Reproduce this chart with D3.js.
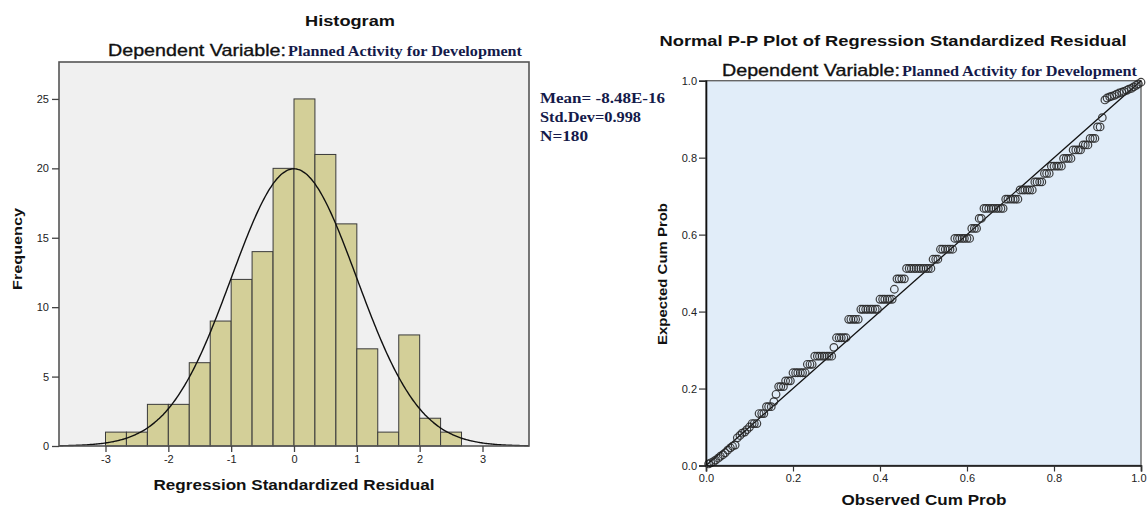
<!DOCTYPE html>
<html>
<head>
<meta charset="utf-8">
<script src="https://cdn.jsdelivr.net/npm/d3@7"></script>
<style>
  body { margin: 0; background: #fff; }
  svg { display: block; }
  text { font-family: "Liberation Sans", Arial, sans-serif; }
  .serif { font-family: "Liberation Serif", "Times New Roman", serif; font-weight: bold; fill: #141a4a; }
</style>
</head>
<body>
<svg id="chart" width="1147" height="508"></svg>
<script>
// histogram data
const binEdges = [-3, -2.667, -2.333, -2, -1.667, -1.333, -1, -0.667, -0.333, 0, 0.333, 0.667, 1, 1.333, 1.667, 2, 2.333, 2.667];
const binCounts = [1, 1, 3, 3, 6, 9, 12, 14, 20, 25, 21, 16, 7, 1, 8, 2, 1];
const histXTicks = [-3, -2, -1, 0, 1, 2, 3];
const histYTicks = [0, 5, 10, 15, 20, 25];
const residMean = -8.48e-16;
const residSd = 0.998;
const statLines = ["Mean= -8.48E-16", "Std.Dev=0.998", "N=180"];

// P-P plot data (observed cum prob, expected cum prob)
const ppObserved = [
  0.006, 0.011, 0.017, 0.022, 0.028, 0.033, 0.039, 0.044, 0.050, 0.056, 0.061, 0.067,
  0.072, 0.078, 0.083, 0.089, 0.094, 0.100, 0.106, 0.111, 0.117, 0.122, 0.128, 0.133,
  0.139, 0.144, 0.150, 0.156, 0.161, 0.167, 0.172, 0.178, 0.183, 0.189, 0.194, 0.200,
  0.206, 0.211, 0.217, 0.222, 0.228, 0.233, 0.239, 0.244, 0.250, 0.256, 0.261, 0.267,
  0.272, 0.278, 0.283, 0.289, 0.294, 0.300, 0.306, 0.311, 0.317, 0.322, 0.328, 0.333,
  0.339, 0.344, 0.350, 0.356, 0.361, 0.367, 0.372, 0.378, 0.383, 0.389, 0.394, 0.400,
  0.406, 0.411, 0.417, 0.422, 0.428, 0.433, 0.439, 0.444, 0.450, 0.456, 0.461, 0.467,
  0.472, 0.478, 0.483, 0.489, 0.494, 0.500, 0.506, 0.511, 0.517, 0.522, 0.528, 0.533,
  0.539, 0.544, 0.550, 0.556, 0.561, 0.567, 0.572, 0.578, 0.583, 0.589, 0.594, 0.600,
  0.606, 0.611, 0.617, 0.622, 0.628, 0.633, 0.639, 0.644, 0.650, 0.656, 0.661, 0.667,
  0.672, 0.678, 0.683, 0.689, 0.694, 0.700, 0.706, 0.711, 0.717, 0.722, 0.728, 0.733,
  0.739, 0.744, 0.750, 0.756, 0.761, 0.767, 0.772, 0.778, 0.783, 0.789, 0.794, 0.800,
  0.806, 0.811, 0.817, 0.822, 0.828, 0.833, 0.839, 0.844, 0.850, 0.856, 0.861, 0.867,
  0.872, 0.878, 0.883, 0.889, 0.894, 0.900, 0.906, 0.911, 0.917, 0.922, 0.928, 0.933,
  0.939, 0.944, 0.950, 0.956, 0.961, 0.967, 0.972, 0.978, 0.983, 0.989, 0.994, 1.000
];
const ppExpected = [
  0.004, 0.007, 0.010, 0.014, 0.019, 0.024, 0.028, 0.033, 0.040, 0.046, 0.050, 0.053,
  0.072, 0.078, 0.084, 0.087, 0.093, 0.100, 0.109, 0.109, 0.109, 0.135, 0.135, 0.135,
  0.153, 0.153, 0.153, 0.166, 0.185, 0.205, 0.205, 0.205, 0.220, 0.220, 0.220, 0.241,
  0.241, 0.241, 0.241, 0.241, 0.241, 0.263, 0.263, 0.263, 0.284, 0.284, 0.284, 0.284,
  0.284, 0.284, 0.284, 0.284, 0.307, 0.332, 0.332, 0.332, 0.332, 0.332, 0.380, 0.380,
  0.380, 0.380, 0.380, 0.406, 0.406, 0.406, 0.406, 0.406, 0.406, 0.406, 0.406, 0.432,
  0.432, 0.432, 0.432, 0.432, 0.432, 0.458, 0.485, 0.485, 0.485, 0.485, 0.512, 0.512,
  0.512, 0.512, 0.512, 0.512, 0.512, 0.512, 0.512, 0.512, 0.512, 0.536, 0.536, 0.536,
  0.562, 0.562, 0.562, 0.562, 0.562, 0.562, 0.590, 0.590, 0.590, 0.590, 0.590, 0.590,
  0.590, 0.616, 0.616, 0.616, 0.642, 0.642, 0.668, 0.668, 0.668, 0.668, 0.668, 0.668,
  0.668, 0.668, 0.668, 0.692, 0.692, 0.692, 0.692, 0.692, 0.692, 0.716, 0.716, 0.716,
  0.716, 0.716, 0.716, 0.737, 0.737, 0.737, 0.737, 0.759, 0.759, 0.759, 0.778, 0.778,
  0.778, 0.778, 0.778, 0.798, 0.798, 0.798, 0.798, 0.820, 0.820, 0.820, 0.820, 0.833,
  0.833, 0.833, 0.850, 0.850, 0.850, 0.880, 0.880, 0.904, 0.950, 0.955, 0.958, 0.960,
  0.962, 0.965, 0.968, 0.970, 0.972, 0.975, 0.978, 0.980, 0.984, 0.988, 0.992, 0.996
];
const ppTicks = [0, 0.2, 0.4, 0.6, 0.8, 1.0];

const svg = d3.select("#chart");

// helper for titles that were stretched in the source image
function label(g, x, y, str, size, weight, width, anchor, cls) {
  const t = g.append("text")
    .attr("x", x).attr("y", y)
    .attr("font-size", size)
    .attr("font-weight", weight)
    .attr("text-anchor", anchor || "start")
    .attr("fill", "#111")
    .text(str);
  if (cls) t.attr("class", cls);
  if (width) t.attr("textLength", width).attr("lengthAdjust", "spacingAndGlyphs");
  return t;
}

// ---------- Histogram ----------
const hx = d3.scaleLinear().domain([-3.74, 3.74]).range([59, 529]);
const hy = d3.scaleLinear().domain([0, 27.66]).range([446, 62]);

const hist = svg.append("g");

hist.append("rect")
  .attr("x", hx.range()[0]).attr("y", hy.range()[1])
  .attr("width", hx.range()[1] - hx.range()[0])
  .attr("height", hy.range()[0] - hy.range()[1])
  .attr("fill", "#f0f0f0");

const binW = binEdges[1] - binEdges[0];
const bins = binCounts.map((c, i) => ({ x0: binEdges[i], x1: binEdges[i] + binW, n: c }));

hist.selectAll(".bar")
  .data(bins)
  .enter()
  .append("rect")
  .attr("class", "bar")
  .attr("x", d => hx(d.x0))
  .attr("y", d => hy(d.n))
  .attr("width", d => hx(d.x1) - hx(d.x0))
  .attr("height", d => hy(0) - hy(d.n))
  .attr("fill", "#d3cf98")
  .attr("stroke", "#3a3a3a")
  .attr("stroke-width", 1);

// fitted normal curve
const area = d3.sum(binCounts) * binW;
const curve = d3.range(-3.74, 3.741, 0.02).map(x => [x,
  area / (residSd * Math.sqrt(2 * Math.PI)) * Math.exp(-0.5 * Math.pow((x - residMean) / residSd, 2))]);

hist.append("path")
  .datum(curve)
  .attr("fill", "none")
  .attr("stroke", "#111")
  .attr("stroke-width", 1.4)
  .attr("d", d3.line().x(d => hx(d[0])).y(d => hy(d[1])).curve(d3.curveBasis));

hist.append("rect")
  .attr("x", hx.range()[0]).attr("y", hy.range()[1])
  .attr("width", hx.range()[1] - hx.range()[0])
  .attr("height", hy.range()[0] - hy.range()[1])
  .attr("fill", "none")
  .attr("stroke", "#555")
  .attr("stroke-width", 1.6);

const hAxisY = hist.append("g")
  .attr("transform", `translate(${hx.range()[0]},0)`)
  .call(d3.axisLeft(hy).tickValues(histYTicks).tickFormat(d => String(d)).tickSize(7).tickPadding(3));
const hAxisX = hist.append("g")
  .attr("transform", `translate(0,${hy(0)})`)
  .call(d3.axisBottom(hx).tickValues(histXTicks).tickFormat(d => String(d)).tickSize(6).tickPadding(3));
[hAxisY, hAxisX].forEach(a => {
  a.select(".domain").remove();
  a.selectAll(".tick line").attr("stroke", "#444").attr("stroke-width", 1.3);
  a.selectAll("text").attr("font-size", 11).attr("fill", "#222").attr("font-family", "Liberation Sans, Arial, sans-serif");
});

label(hist, 350, 26, "Histogram", 15, "bold", 90, "middle");
label(hist, 108, 56, "Dependent Variable:", 17, "normal", 178)
  .attr("stroke", "#111").attr("stroke-width", 0.35);
label(hist, 288, 56, "Planned Activity for Development", 14.5, "bold", 234, "start", "serif");
label(hist, 294, 490, "Regression Standardized Residual", 14.5, "bold", 281, "middle");
label(hist, 0, 0, "Frequency", 13.5, "bold", 82, "middle")
  .attr("transform", "translate(22,249) rotate(-90)");

const statWidths = [125, 101, 48];
statLines.forEach((s, i) => {
  label(hist, 540, 103 + i * 19, s, 14.5, "bold", statWidths[i], "start", "serif");
});

// ---------- Normal P-P plot ----------
const px = d3.scaleLinear().domain([0, 1]).range([706, 1141]);
const py = d3.scaleLinear().domain([0, 1]).range([465.5, 80.7]);

const pp = svg.append("g");

pp.append("rect")
  .attr("x", px(0)).attr("y", py(1))
  .attr("width", px(1) - px(0)).attr("height", py(0) - py(1))
  .attr("fill", "#e1edf9")
  .attr("stroke", "#666")
  .attr("stroke-width", 1.4);

pp.append("line")
  .attr("x1", px(0)).attr("y1", py(0))
  .attr("x2", px(1)).attr("y2", py(1))
  .attr("stroke", "#111")
  .attr("stroke-width", 1.3);

pp.selectAll(".pt")
  .data(ppObserved.map((o, i) => [o, ppExpected[i]]))
  .enter()
  .append("circle")
  .attr("class", "pt")
  .attr("cx", d => px(d[0]))
  .attr("cy", d => py(d[1]))
  .attr("r", 3.8)
  .attr("fill", "none")
  .attr("stroke", "#2a2a2a")
  .attr("stroke-opacity", 0.9)
  .attr("stroke-width", 1.2);

const fmt = d3.format(".1f");
const pAxisY = pp.append("g")
  .attr("transform", `translate(${px(0)},0)`)
  .call(d3.axisLeft(py).tickValues(ppTicks).tickFormat(fmt).tickSize(7).tickPadding(2));
const pAxisX = pp.append("g")
  .attr("transform", `translate(0,${py(0)})`)
  .call(d3.axisBottom(px).tickValues(ppTicks).tickFormat(fmt).tickSize(6).tickPadding(3));
[pAxisY, pAxisX].forEach(a => {
  a.select(".domain").attr("stroke", "#111").attr("stroke-width", 1.6);
  a.selectAll(".tick line").attr("stroke", "#333").attr("stroke-width", 1.2);
  a.selectAll("text").attr("font-size", 11).attr("fill", "#222").attr("font-family", "Liberation Sans, Arial, sans-serif");
});
// last x label sits against the right edge; keep it inside the picture
pAxisX.selectAll(".tick text").filter(d => d === 1).attr("text-anchor", "end").attr("x", 5);

label(pp, 893, 46, "Normal P-P Plot of Regression Standardized Residual", 15, "bold", 467, "middle");
label(pp, 722, 76, "Dependent Variable:", 17, "normal", 178)
  .attr("stroke", "#111").attr("stroke-width", 0.35);
label(pp, 902, 76, "Planned Activity for Development", 14.5, "bold", 235, "start", "serif");
label(pp, 924, 505, "Observed Cum Prob", 14.5, "bold", 165, "middle");
label(pp, 0, 0, "Expected Cum Prob", 13.5, "bold", 142, "middle")
  .attr("transform", "translate(667,274) rotate(-90)");
</script>
</body>
</html>
